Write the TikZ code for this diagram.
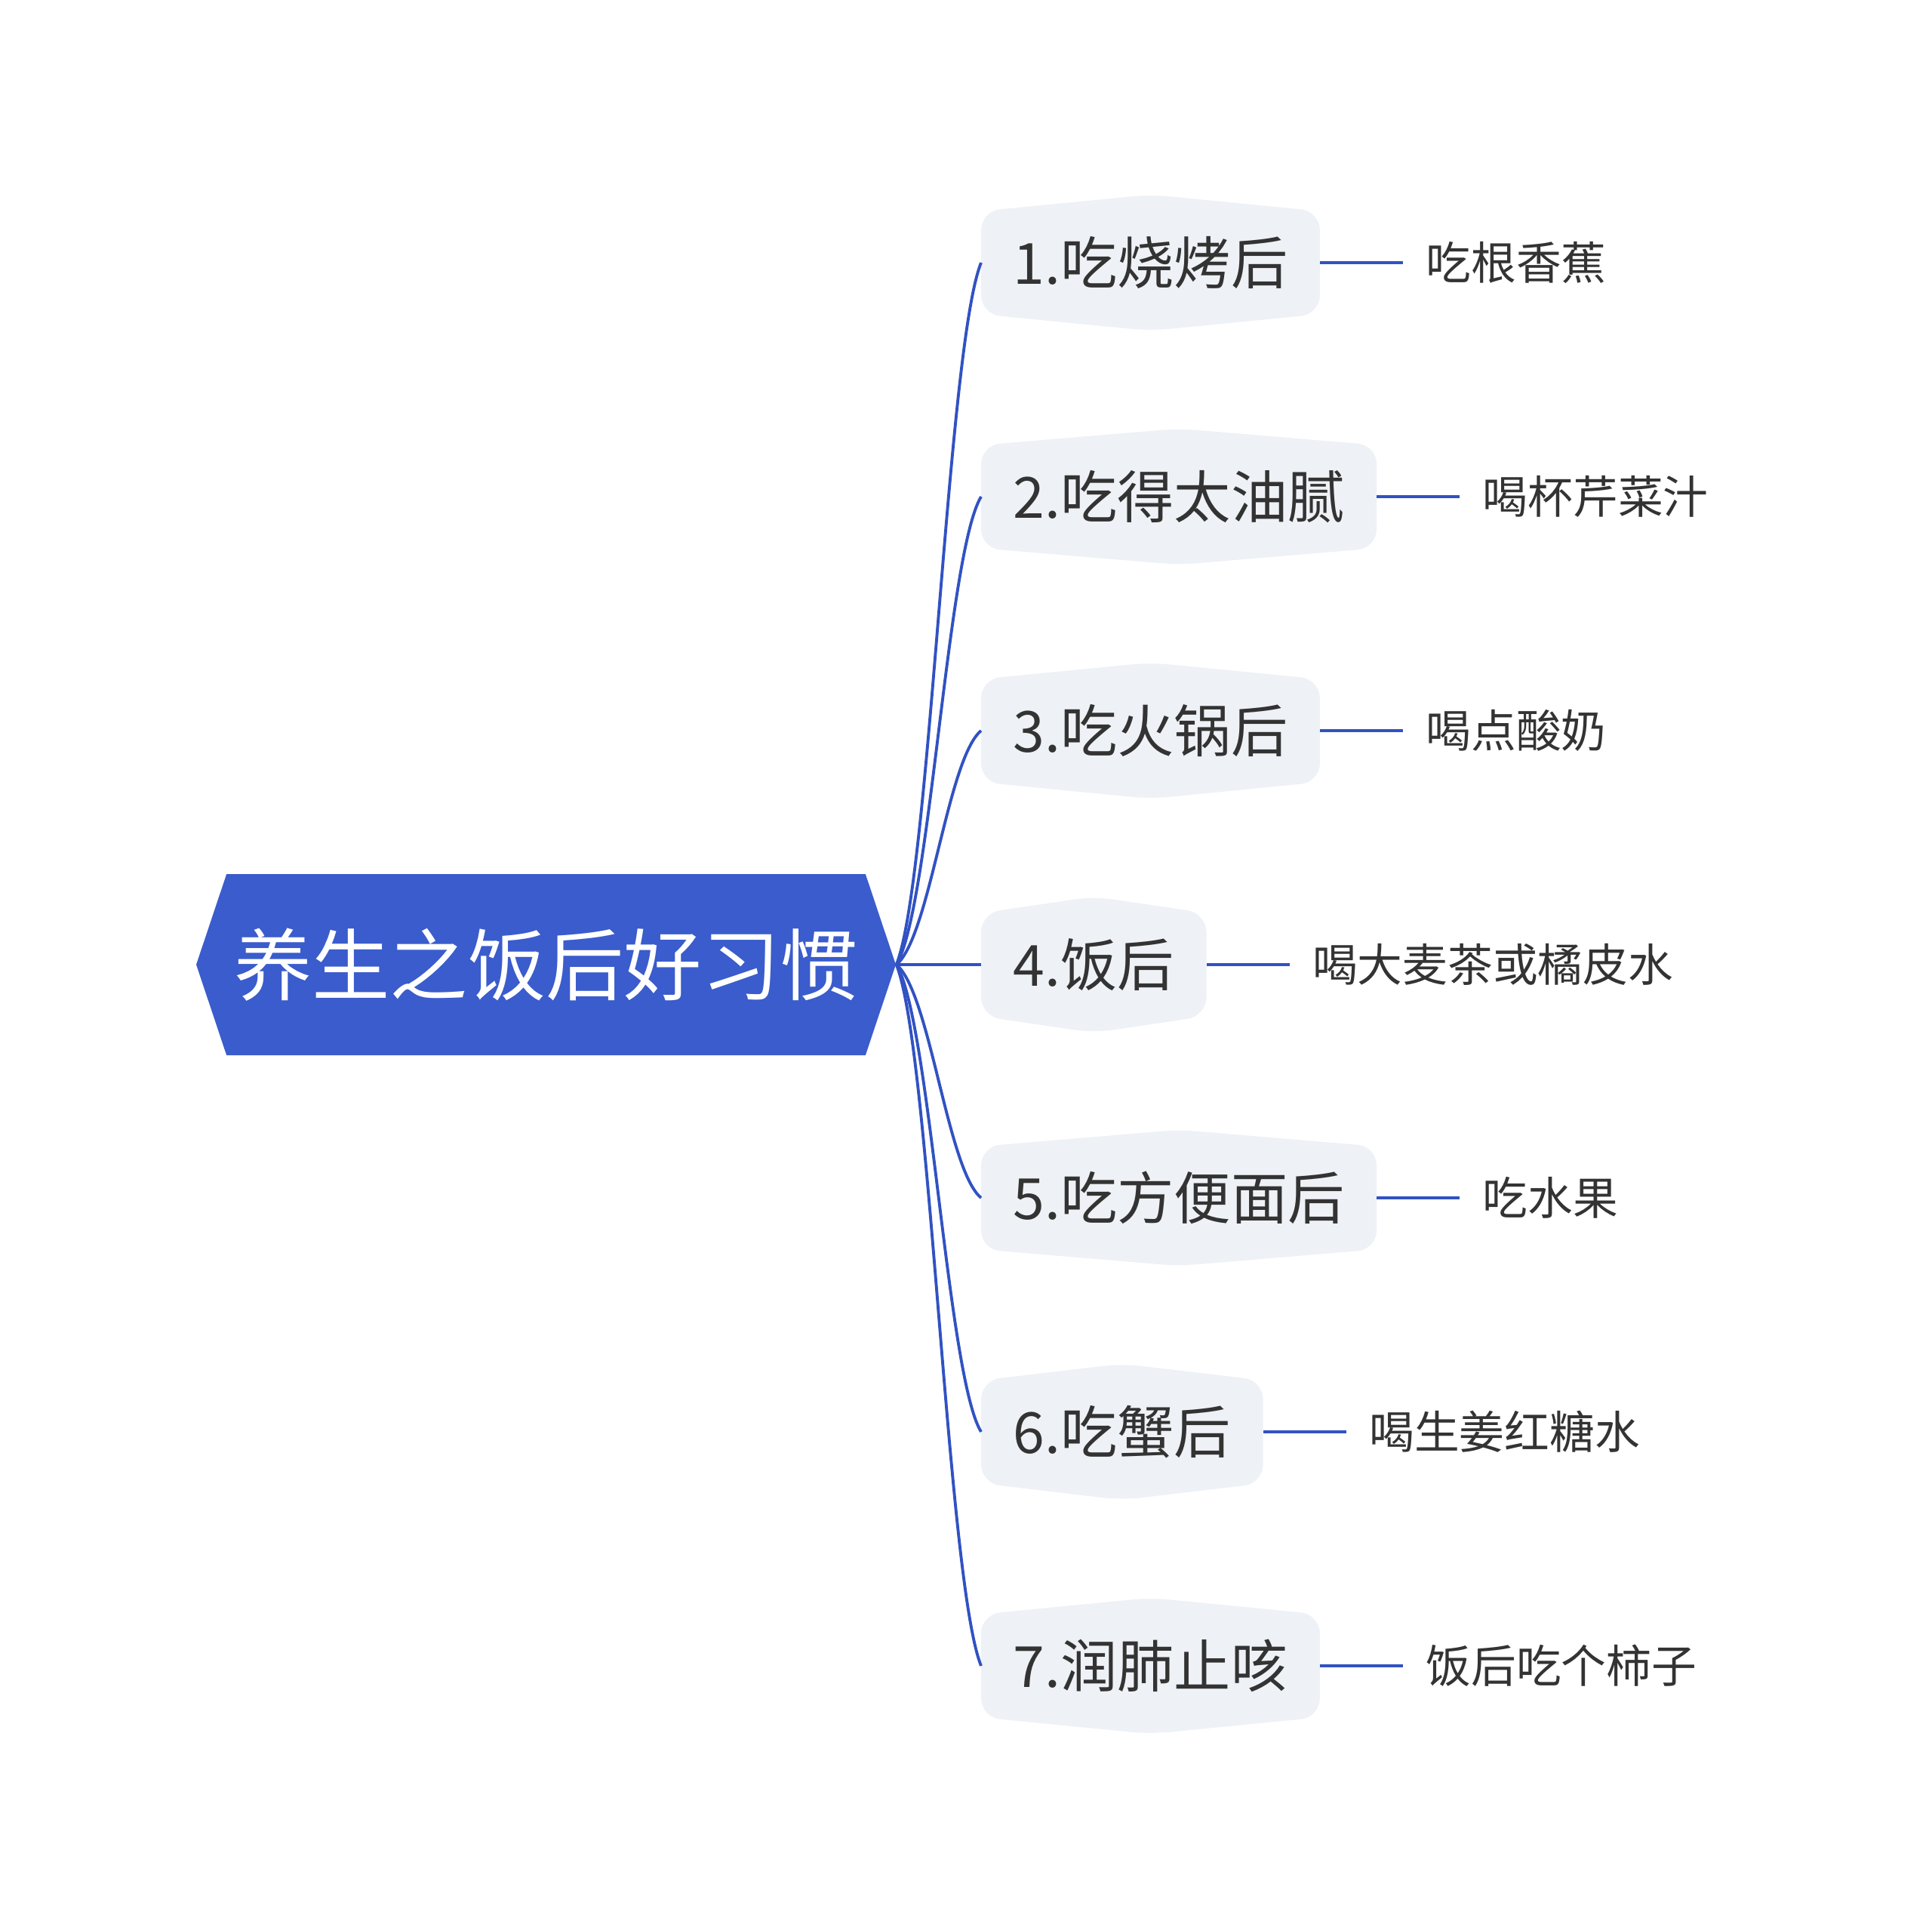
\documentclass[tikz,border=0pt]{standalone}
\usepackage{fontspec}
\newfontfamily\cjk{Noto Sans CJK SC}
\usetikzlibrary{calc, positioning, shapes.symbols, backgrounds}
\definecolor{mainblue}{HTML}{3A5CCC}
\definecolor{linkblue}{HTML}{3152C2}
\definecolor{topicgray}{HTML}{EEF1F5}
\definecolor{textgray}{HTML}{333333}
\tikzset{
  root/.style={shape=signal, signal to=east and west, signal pointer angle=143, fill=mainblue, text=white,
    minimum height=2.4cm, inner xsep=0.1cm, font=\cjk\fontsize{29.4pt}{30pt}\selectfont},
  topic/.style={anchor=west, minimum height=1.35cm, inner xsep=0.42cm, inner ysep=0pt, text=textgray,
    font=\cjk\fontsize{21.4pt}{22pt}\selectfont},
  leaf/.style={inner xsep=0.3cm, inner ysep=0pt, text=textgray, font=\cjk\fontsize{17pt}{18pt}\selectfont},
  link/.style={linkblue, line width=1.1pt, to path={let \p1=(\tikztostart), \p2=(\tikztotarget) in
    .. controls ({\x1+0.4*(\x2-\x1)},{\y1+0.12*(\y2-\y1)}) and ({\x2-0.4*(\x2-\x1)},{\y2-0.12*(\y2-\y1)}) .. (\tikztotarget)}},
  twig/.style={linkblue, line width=1.15pt},
}
\newcommand{\topicbg}[1]{\fill[topicgray, rounded corners=0.25cm] (#1.south west) -- (#1.north west)
  -- ([yshift=0.22cm]#1.north) -- (#1.north east) -- (#1.south east) -- ([yshift=-0.22cm]#1.south) -- cycle;}

\begin{document}
\begin{tikzpicture}
  \useasboundingbox (0,0) rectangle (25.6,-25.56);
  \def \xt{13.0}

  \node[root] (root) at (7.235,-12.78) {养生之饭后好习惯};

  \node[topic] (t1) at (\xt,-3.48) {1.吃烧烤后};
  \node[topic] (t2) at (\xt,-6.58) {2.吃得太油腻};
  \node[topic] (t3) at (\xt,-9.68) {3.吃火锅后};
  \node[topic] (t4) at (\xt,-12.78) {4.饭后};
  \node[topic] (t5) at (\xt,-15.87) {5.吃方便面后};
  \node[topic] (t6) at (\xt,-18.97) {6.吃蟹后};
  \node[topic] (t7) at (\xt,-22.07) {7.润肺止咳};

  \begin{pgfonlayer}{background}
    \topicbg{t1} \topicbg{t2} \topicbg{t3} \topicbg{t4} \topicbg{t5} \topicbg{t6} \topicbg{t7}
  \end{pgfonlayer}

  \node[leaf, right=1.1cm of t1] (l1) {吃根香蕉};
  \node[leaf, right=1.1cm of t2] (l2) {喝杯芹菜汁};
  \node[leaf, right=1.1cm of t3] (l3) {喝点酸奶};
  \node[leaf, right=1.1cm of t4] (l4) {喝大麦茶或橘皮水};
  \node[leaf, right=1.1cm of t5] (l5) {吃水果};
  \node[leaf, right=1.1cm of t6] (l6) {喝生姜红糖水};
  \node[leaf, right=1.1cm of t7] (l7) {饭后吃个柿子};

  \draw[link] (root.east) to (t1.west);
  \draw[link] (root.east) to (t2.west);
  \draw[link] (root.east) to (t3.west);
  \draw[link] (root.east) to (t4.west);
  \draw[link] (root.east) to (t5.west);
  \draw[link] (root.east) to (t6.west);
  \draw[link] (root.east) to (t7.west);

  \draw[twig] (t1) -- (l1);
  \draw[twig] (t2) -- (l2);
  \draw[twig] (t3) -- (l3);
  \draw[twig] (t4) -- (l4);
  \draw[twig] (t5) -- (l5);
  \draw[twig] (t6) -- (l6);
  \draw[twig] (t7) -- (l7);
\end{tikzpicture}
\end{document}
